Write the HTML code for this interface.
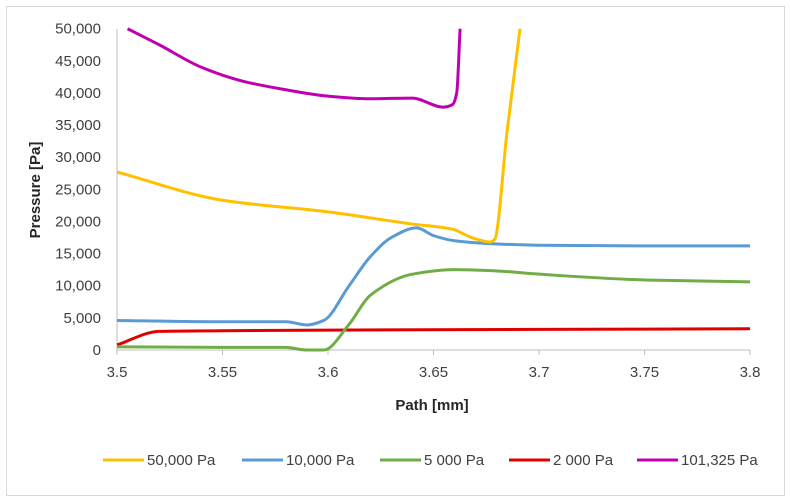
<!DOCTYPE html>
<html><head><meta charset="utf-8">
<style>
body{margin:0;background:#fff;font-family:"Liberation Sans",sans-serif;}
svg{display:block}
</style></head>
<body>
<svg id="chart" width="790" height="502" xmlns="http://www.w3.org/2000/svg">
<rect x="6.5" y="6.5" width="778" height="489" fill="#fff" stroke="#d9d9d9"/>
<g id="axes"></g>
<g id="series"></g>
<text x="432" y="410" text-anchor="middle" font-size="15" font-weight="bold" fill="#262626">Path [mm]</text>
<text transform="translate(40,190) rotate(-90)" text-anchor="middle" font-size="15" font-weight="bold" fill="#262626">Pressure [Pa]</text>
<g id="legend"></g>
</svg>
<script>
const xTicks=[3.5,3.55,3.6,3.65,3.7,3.75,3.8];
const xTickLabels=["3.5","3.55","3.6","3.65","3.7","3.75","3.8"];
const yTicks=[0,5000,10000,15000,20000,25000,30000,35000,40000,45000,50000];
const yTickLabels=["0","5,000","10,000","15,000","20,000","25,000","30,000","35,000","40,000","45,000","50,000"];
const seriesNames=["50,000 Pa","10,000 Pa","5 000 Pa","2 000 Pa","101,325 Pa"];
const seriesColors=["#ffc000","#5b9bd5","#70ad47","#e00000","#c000b0"];
const s50000X=[3.5,3.55,3.6,3.64,3.659,3.668,3.677,3.679,3.6848,3.691];
const s50000Y=[27700,23300,21500,19600,18800,17500,16800,17200,33800,50000];
const s10000X=[3.5,3.55,3.58,3.59,3.598,3.61,3.62,3.63,3.642,3.65,3.66,3.68,3.7,3.75,3.8];
const s10000Y=[4600,4400,4400,3900,4600,10000,14500,17500,19000,17800,17000,16500,16300,16200,16200];
const s5000X=[3.5,3.55,3.58,3.59,3.598,3.61,3.62,3.64,3.66,3.68,3.7,3.75,3.8];
const s5000Y=[500,400,400,0,0,4000,8500,11800,12500,12300,11800,10900,10600];
const s2000X=[3.5,3.52,3.55,3.6,3.7,3.8];
const s2000Y=[800,2900,3000,3100,3200,3300];
const s101325X=[3.505,3.52,3.54,3.56,3.58,3.6,3.62,3.64,3.6545,3.659,3.661,3.6626];
const s101325Y=[50000,47500,44000,41800,40500,39500,39100,39200,37800,38200,40000,50000];

const X0=117,X1=750,Y0=350,Y1=28.7;
const xs=v=>X0+(v-3.5)/0.3*(X1-X0);
const ys=v=>Y0-(v/50000)*(Y0-Y1);
const NS="http://www.w3.org/2000/svg";
function mk(tag,attrs,parent){const e=document.createElementNS(NS,tag);for(const k in attrs)e.setAttribute(k,attrs[k]);parent.appendChild(e);return e;}
const axes=document.getElementById('axes');
const yl=mk('line',{x1:X0,x2:X0,y1:Y1,y2:Y0,stroke:'#bfbfbf','stroke-width':1},axes);


const xl=mk('line',{x1:X0,x2:X1,y1:Y0,y2:Y0,stroke:'#bfbfbf','stroke-width':1},axes);


yTicks.forEach((t,i)=>{
 const tx=mk('text',{x:101,y:ys(t)+5,'text-anchor':'end','font-size':15,fill:'#404040'},axes);
 tx.textContent=yTickLabels[i];
 
 
});
xTicks.forEach((t,i)=>{
 const tk=mk('line',{x1:xs(t),x2:xs(t),y1:Y0,y2:Y0+5,stroke:'#bfbfbf'},axes);
 
 
 const tx=mk('text',{x:xs(t),y:Y0+27,'text-anchor':'middle','font-size':15,fill:'#404040'},axes);
 tx.textContent=xTickLabels[i];
 
 
});
// monotone cubic (Fritsch-Carlson) in pixel space
function smooth(px,py){
 const X=px.map(xs),Y=py.map(ys),n=X.length;
 const d=[],m=[];
 for(let i=0;i<n-1;i++)d.push((Y[i+1]-Y[i])/(X[i+1]-X[i]));
 m[0]=d[0];m[n-1]=d[n-2];
 for(let i=1;i<n-1;i++){
  if(d[i-1]*d[i]<=0)m[i]=0;
  else{const w1=2*(X[i+1]-X[i])+(X[i]-X[i-1]),w2=(X[i+1]-X[i])+2*(X[i]-X[i-1]);m[i]=(w1+w2)/(w1/d[i-1]+w2/d[i]);}
 }
 let s='M'+X[0]+','+Y[0];
 for(let i=0;i<n-1;i++){
  const h=(X[i+1]-X[i])/3;
  s+=' C'+(X[i]+h)+','+(Y[i]+m[i]*h)+' '+(X[i+1]-h)+','+(Y[i+1]-m[i+1]*h)+' '+X[i+1]+','+Y[i+1];
 }
 return s;
}
const sg=document.getElementById('series');
const allX=[s50000X,s10000X,s5000X,s2000X,s101325X];
const allY=[s50000Y,s10000Y,s5000Y,s2000Y,s101325Y];
const snames=['series-50000-pa','series-10000-pa','series-5000-pa','series-2000-pa','series-101325-pa'];
[3,2,1,0,4].forEach(i=>{
 const p=mk('path',{d:smooth(allX[i],allY[i]),fill:'none',stroke:seriesColors[i],'stroke-width':3,'stroke-linejoin':'round'},sg);
 
 
});
const lg=document.getElementById('legend');
const lineX=[103,242,380,509,637];
seriesNames.forEach((n,i)=>{
 const l=mk('line',{x1:lineX[i],x2:lineX[i]+41,y1:460,y2:460,stroke:seriesColors[i],'stroke-width':3},lg);
 
 
 const t=mk('text',{x:lineX[i]+44,y:465,'font-size':15,fill:'#404040'},lg);
 t.textContent=n;
 
 
});
</script>
</body></html>
